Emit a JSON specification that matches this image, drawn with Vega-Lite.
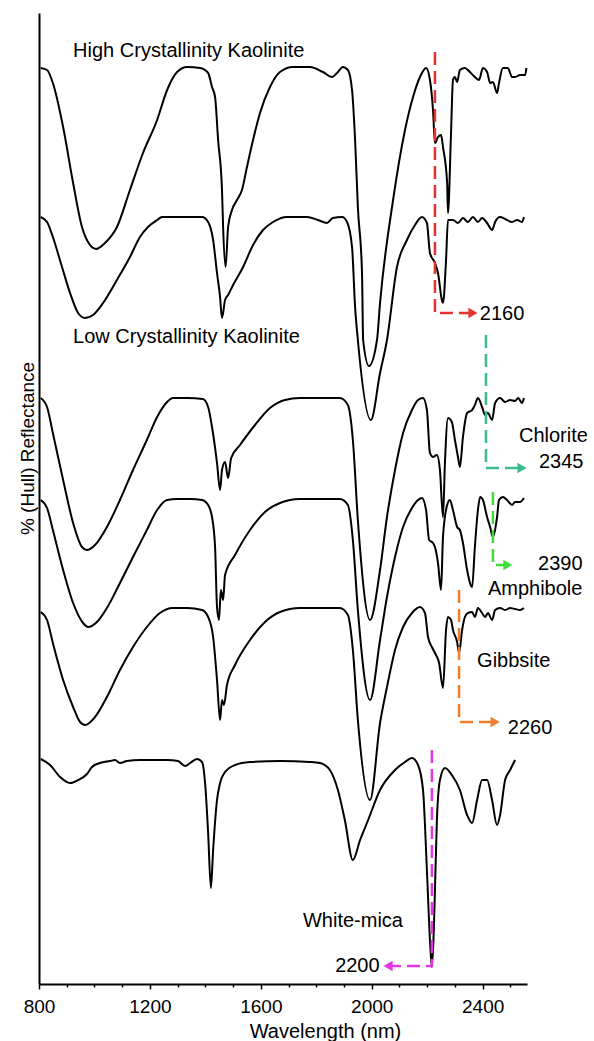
{
"$schema": "https://vega.github.io/schema/vega-lite/v6.json",
"width": 488, "height": 971,
"autosize": {"type": "none"},
"padding": {"left": 39, "top": 13, "right": 67, "bottom": 57},
"background": "white",
"config": {"view": {"stroke": null}, "font": "Liberation Sans"},
"datasets": {
"spectra": [
{"s":"HCK","w":806,"r":916},{"s":"HCK","w":829,"r":914},{"s":"HCK","w":850,"r":901},{"s":"HCK","w":887,"r":857},{"s":"HCK","w":923,"r":801},{"s":"HCK","w":955,"r":757},{"s":"HCK","w":984,"r":739},{"s":"HCK","w":1006,"r":735},{"s":"HCK","w":1038,"r":741},{"s":"HCK","w":1081,"r":757},{"s":"HCK","w":1128,"r":794},{"s":"HCK","w":1175,"r":831},{"s":"HCK","w":1226,"r":864},{"s":"HCK","w":1262,"r":894},{"s":"HCK","w":1298,"r":912},{"s":"HCK","w":1334,"r":917},{"s":"HCK","w":1381,"r":916},{"s":"HCK","w":1410,"r":911},{"s":"HCK","w":1424,"r":897},{"s":"HCK","w":1435,"r":887},{"s":"HCK","w":1446,"r":844},{"s":"HCK","w":1460,"r":794},{"s":"HCK","w":1464,"r":757},{"s":"HCK","w":1473,"r":717},{"s":"HCK","w":1482,"r":757},{"s":"HCK","w":1496,"r":774},{"s":"HCK","w":1514,"r":784},{"s":"HCK","w":1532,"r":794},{"s":"HCK","w":1550,"r":817},{"s":"HCK","w":1572,"r":844},{"s":"HCK","w":1597,"r":871},{"s":"HCK","w":1633,"r":897},{"s":"HCK","w":1669,"r":912},{"s":"HCK","w":1716,"r":917},{"s":"HCK","w":1777,"r":917},{"s":"HCK","w":1824,"r":912},{"s":"HCK","w":1857,"r":907},{"s":"HCK","w":1875,"r":911},{"s":"HCK","w":1896,"r":917},{"s":"HCK","w":1914,"r":914},{"s":"HCK","w":1929,"r":894},{"s":"HCK","w":1940,"r":844},{"s":"HCK","w":1950,"r":777},{"s":"HCK","w":1965,"r":711},{"s":"HCK","w":1969,"r":644},{"s":"HCK","w":1990,"r":618},{"s":"HCK","w":2019,"r":644},{"s":"HCK","w":2030,"r":681},{"s":"HCK","w":2077,"r":784},{"s":"HCK","w":2120,"r":854},{"s":"HCK","w":2149,"r":887},{"s":"HCK","w":2174,"r":907},{"s":"HCK","w":2196,"r":916},{"s":"HCK","w":2210,"r":904},{"s":"HCK","w":2221,"r":874},{"s":"HCK","w":2228,"r":841},{"s":"HCK","w":2239,"r":847},{"s":"HCK","w":2250,"r":849},{"s":"HCK","w":2257,"r":837},{"s":"HCK","w":2272,"r":801},{"s":"HCK","w":2275,"r":771},{"s":"HCK","w":2286,"r":851},{"s":"HCK","w":2293,"r":904},{"s":"HCK","w":2300,"r":907},{"s":"HCK","w":2308,"r":902},{"s":"HCK","w":2318,"r":914},{"s":"HCK","w":2336,"r":916},{"s":"HCK","w":2354,"r":912},{"s":"HCK","w":2372,"r":907},{"s":"HCK","w":2387,"r":904},{"s":"HCK","w":2401,"r":916},{"s":"HCK","w":2416,"r":912},{"s":"HCK","w":2427,"r":901},{"s":"HCK","w":2437,"r":902},{"s":"HCK","w":2452,"r":891},{"s":"HCK","w":2459,"r":901},{"s":"HCK","w":2473,"r":916},{"s":"HCK","w":2491,"r":916},{"s":"HCK","w":2506,"r":907},{"s":"HCK","w":2517,"r":907},{"s":"HCK","w":2535,"r":909},{"s":"HCK","w":2553,"r":909},{"s":"HCK","w":2558,"r":916},
{"s":"LCK","w":806,"r":767},{"s":"LCK","w":829,"r":762},{"s":"LCK","w":850,"r":747},{"s":"LCK","w":883,"r":717},{"s":"LCK","w":912,"r":691},{"s":"LCK","w":941,"r":671},{"s":"LCK","w":966,"r":666},{"s":"LCK","w":995,"r":669},{"s":"LCK","w":1031,"r":681},{"s":"LCK","w":1081,"r":704},{"s":"LCK","w":1128,"r":727},{"s":"LCK","w":1164,"r":747},{"s":"LCK","w":1193,"r":757},{"s":"LCK","w":1226,"r":764},{"s":"LCK","w":1244,"r":767},{"s":"LCK","w":1334,"r":767},{"s":"LCK","w":1388,"r":767},{"s":"LCK","w":1410,"r":762},{"s":"LCK","w":1428,"r":744},{"s":"LCK","w":1442,"r":711},{"s":"LCK","w":1453,"r":687},{"s":"LCK","w":1460,"r":666},{"s":"LCK","w":1471,"r":684},{"s":"LCK","w":1482,"r":689},{"s":"LCK","w":1500,"r":699},{"s":"LCK","w":1536,"r":717},{"s":"LCK","w":1572,"r":739},{"s":"LCK","w":1608,"r":754},{"s":"LCK","w":1644,"r":762},{"s":"LCK","w":1694,"r":767},{"s":"LCK","w":1767,"r":767},{"s":"LCK","w":1806,"r":764},{"s":"LCK","w":1839,"r":761},{"s":"LCK","w":1860,"r":766},{"s":"LCK","w":1893,"r":767},{"s":"LCK","w":1911,"r":762},{"s":"LCK","w":1929,"r":737},{"s":"LCK","w":1940,"r":677},{"s":"LCK","w":1950,"r":644},{"s":"LCK","w":1997,"r":564},{"s":"LCK","w":2030,"r":611},{"s":"LCK","w":2055,"r":644},{"s":"LCK","w":2091,"r":717},{"s":"LCK","w":2127,"r":744},{"s":"LCK","w":2156,"r":759},{"s":"LCK","w":2181,"r":767},{"s":"LCK","w":2199,"r":761},{"s":"LCK","w":2210,"r":731},{"s":"LCK","w":2228,"r":721},{"s":"LCK","w":2239,"r":711},{"s":"LCK","w":2253,"r":684},{"s":"LCK","w":2257,"r":681},{"s":"LCK","w":2268,"r":724},{"s":"LCK","w":2275,"r":764},{"s":"LCK","w":2293,"r":764},{"s":"LCK","w":2311,"r":761},{"s":"LCK","w":2329,"r":766},{"s":"LCK","w":2347,"r":762},{"s":"LCK","w":2365,"r":767},{"s":"LCK","w":2383,"r":762},{"s":"LCK","w":2398,"r":766},{"s":"LCK","w":2416,"r":761},{"s":"LCK","w":2434,"r":754},{"s":"LCK","w":2445,"r":762},{"s":"LCK","w":2463,"r":767},{"s":"LCK","w":2481,"r":765},{"s":"LCK","w":2506,"r":762},{"s":"LCK","w":2524,"r":764},{"s":"LCK","w":2542,"r":762},{"s":"LCK","w":2549,"r":767},
{"s":"Chl","w":806,"r":586},{"s":"Chl","w":829,"r":577},{"s":"Chl","w":850,"r":551},{"s":"Chl","w":887,"r":504},{"s":"Chl","w":923,"r":461},{"s":"Chl","w":955,"r":437},{"s":"Chl","w":973,"r":434},{"s":"Chl","w":1002,"r":439},{"s":"Chl","w":1045,"r":457},{"s":"Chl","w":1092,"r":484},{"s":"Chl","w":1139,"r":514},{"s":"Chl","w":1189,"r":544},{"s":"Chl","w":1226,"r":567},{"s":"Chl","w":1262,"r":582},{"s":"Chl","w":1283,"r":586},{"s":"Chl","w":1334,"r":586},{"s":"Chl","w":1391,"r":585},{"s":"Chl","w":1410,"r":577},{"s":"Chl","w":1424,"r":557},{"s":"Chl","w":1442,"r":521},{"s":"Chl","w":1453,"r":494},{"s":"Chl","w":1460,"r":514},{"s":"Chl","w":1471,"r":522},{"s":"Chl","w":1482,"r":506},{"s":"Chl","w":1493,"r":526},{"s":"Chl","w":1525,"r":539},{"s":"Chl","w":1579,"r":559},{"s":"Chl","w":1633,"r":576},{"s":"Chl","w":1687,"r":584},{"s":"Chl","w":1741,"r":586},{"s":"Chl","w":1885,"r":586},{"s":"Chl","w":1914,"r":579},{"s":"Chl","w":1932,"r":544},{"s":"Chl","w":1950,"r":464},{"s":"Chl","w":1994,"r":364},{"s":"Chl","w":2030,"r":414},{"s":"Chl","w":2055,"r":467},{"s":"Chl","w":2084,"r":514},{"s":"Chl","w":2113,"r":551},{"s":"Chl","w":2145,"r":574},{"s":"Chl","w":2167,"r":584},{"s":"Chl","w":2185,"r":586},{"s":"Chl","w":2199,"r":574},{"s":"Chl","w":2210,"r":531},{"s":"Chl","w":2221,"r":527},{"s":"Chl","w":2235,"r":529},{"s":"Chl","w":2246,"r":514},{"s":"Chl","w":2257,"r":467},{"s":"Chl","w":2264,"r":521},{"s":"Chl","w":2275,"r":566},{"s":"Chl","w":2289,"r":562},{"s":"Chl","w":2300,"r":544},{"s":"Chl","w":2311,"r":527},{"s":"Chl","w":2318,"r":517},{"s":"Chl","w":2329,"r":547},{"s":"Chl","w":2344,"r":571},{"s":"Chl","w":2362,"r":574},{"s":"Chl","w":2372,"r":579},{"s":"Chl","w":2383,"r":586},{"s":"Chl","w":2398,"r":577},{"s":"Chl","w":2409,"r":569},{"s":"Chl","w":2419,"r":571},{"s":"Chl","w":2434,"r":564},{"s":"Chl","w":2445,"r":581},{"s":"Chl","w":2463,"r":586},{"s":"Chl","w":2481,"r":582},{"s":"Chl","w":2499,"r":584},{"s":"Chl","w":2517,"r":583},{"s":"Chl","w":2528,"r":586},{"s":"Chl","w":2542,"r":581},{"s":"Chl","w":2549,"r":586},
{"s":"Amp","w":806,"r":484},{"s":"Amp","w":829,"r":476},{"s":"Amp","w":850,"r":454},{"s":"Amp","w":887,"r":414},{"s":"Amp","w":923,"r":381},{"s":"Amp","w":959,"r":361},{"s":"Amp","w":977,"r":357},{"s":"Amp","w":1009,"r":362},{"s":"Amp","w":1045,"r":376},{"s":"Amp","w":1092,"r":401},{"s":"Amp","w":1139,"r":427},{"s":"Amp","w":1189,"r":454},{"s":"Amp","w":1226,"r":474},{"s":"Amp","w":1262,"r":484},{"s":"Amp","w":1298,"r":485},{"s":"Amp","w":1345,"r":485},{"s":"Amp","w":1388,"r":484},{"s":"Amp","w":1410,"r":479},{"s":"Amp","w":1424,"r":467},{"s":"Amp","w":1435,"r":437},{"s":"Amp","w":1442,"r":377},{"s":"Amp","w":1449,"r":364},{"s":"Amp","w":1456,"r":394},{"s":"Amp","w":1464,"r":384},{"s":"Amp","w":1471,"r":409},{"s":"Amp","w":1507,"r":429},{"s":"Amp","w":1561,"r":454},{"s":"Amp","w":1615,"r":472},{"s":"Amp","w":1669,"r":481},{"s":"Amp","w":1741,"r":485},{"s":"Amp","w":1885,"r":485},{"s":"Amp","w":1914,"r":479},{"s":"Amp","w":1932,"r":444},{"s":"Amp","w":1950,"r":374},{"s":"Amp","w":1994,"r":284},{"s":"Amp","w":2030,"r":344},{"s":"Amp","w":2055,"r":387},{"s":"Amp","w":2084,"r":427},{"s":"Amp","w":2113,"r":457},{"s":"Amp","w":2145,"r":476},{"s":"Amp","w":2167,"r":484},{"s":"Amp","w":2181,"r":486},{"s":"Amp","w":2196,"r":474},{"s":"Amp","w":2207,"r":444},{"s":"Amp","w":2221,"r":441},{"s":"Amp","w":2228,"r":437},{"s":"Amp","w":2239,"r":421},{"s":"Amp","w":2250,"r":394},{"s":"Amp","w":2257,"r":447},{"s":"Amp","w":2272,"r":479},{"s":"Amp","w":2282,"r":484},{"s":"Amp","w":2293,"r":474},{"s":"Amp","w":2308,"r":457},{"s":"Amp","w":2318,"r":454},{"s":"Amp","w":2329,"r":441},{"s":"Amp","w":2344,"r":414},{"s":"Amp","w":2362,"r":397},{"s":"Amp","w":2372,"r":437},{"s":"Amp","w":2383,"r":474},{"s":"Amp","w":2391,"r":487},{"s":"Amp","w":2401,"r":484},{"s":"Amp","w":2416,"r":467},{"s":"Amp","w":2427,"r":457},{"s":"Amp","w":2437,"r":447},{"s":"Amp","w":2452,"r":467},{"s":"Amp","w":2459,"r":484},{"s":"Amp","w":2473,"r":487},{"s":"Amp","w":2488,"r":484},{"s":"Amp","w":2506,"r":479},{"s":"Amp","w":2517,"r":482},{"s":"Amp","w":2535,"r":482},{"s":"Amp","w":2549,"r":486},
{"s":"Gib","w":806,"r":372},{"s":"Gib","w":829,"r":364},{"s":"Gib","w":850,"r":341},{"s":"Gib","w":887,"r":304},{"s":"Gib","w":923,"r":277},{"s":"Gib","w":948,"r":262},{"s":"Gib","w":966,"r":259},{"s":"Gib","w":1002,"r":267},{"s":"Gib","w":1045,"r":287},{"s":"Gib","w":1092,"r":314},{"s":"Gib","w":1139,"r":337},{"s":"Gib","w":1189,"r":357},{"s":"Gib","w":1236,"r":371},{"s":"Gib","w":1283,"r":376},{"s":"Gib","w":1334,"r":376},{"s":"Gib","w":1388,"r":374},{"s":"Gib","w":1410,"r":367},{"s":"Gib","w":1428,"r":347},{"s":"Gib","w":1442,"r":304},{"s":"Gib","w":1453,"r":264},{"s":"Gib","w":1460,"r":284},{"s":"Gib","w":1467,"r":279},{"s":"Gib","w":1478,"r":299},{"s":"Gib","w":1507,"r":319},{"s":"Gib","w":1561,"r":344},{"s":"Gib","w":1615,"r":362},{"s":"Gib","w":1669,"r":372},{"s":"Gib","w":1741,"r":376},{"s":"Gib","w":1885,"r":376},{"s":"Gib","w":1914,"r":369},{"s":"Gib","w":1932,"r":334},{"s":"Gib","w":1950,"r":264},{"s":"Gib","w":1994,"r":184},{"s":"Gib","w":2030,"r":261},{"s":"Gib","w":2055,"r":297},{"s":"Gib","w":2084,"r":334},{"s":"Gib","w":2113,"r":357},{"s":"Gib","w":2145,"r":371},{"s":"Gib","w":2174,"r":377},{"s":"Gib","w":2192,"r":371},{"s":"Gib","w":2203,"r":347},{"s":"Gib","w":2217,"r":337},{"s":"Gib","w":2228,"r":331},{"s":"Gib","w":2243,"r":321},{"s":"Gib","w":2257,"r":296},{"s":"Gib","w":2268,"r":354},{"s":"Gib","w":2275,"r":367},{"s":"Gib","w":2286,"r":364},{"s":"Gib","w":2293,"r":354},{"s":"Gib","w":2308,"r":342},{"s":"Gib","w":2315,"r":331},{"s":"Gib","w":2326,"r":354},{"s":"Gib","w":2336,"r":367},{"s":"Gib","w":2347,"r":371},{"s":"Gib","w":2362,"r":372},{"s":"Gib","w":2372,"r":367},{"s":"Gib","w":2383,"r":376},{"s":"Gib","w":2398,"r":371},{"s":"Gib","w":2409,"r":367},{"s":"Gib","w":2419,"r":371},{"s":"Gib","w":2434,"r":364},{"s":"Gib","w":2445,"r":374},{"s":"Gib","w":2463,"r":376},{"s":"Gib","w":2481,"r":374},{"s":"Gib","w":2499,"r":376},{"s":"Gib","w":2517,"r":375},{"s":"Gib","w":2535,"r":374},{"s":"Gib","w":2549,"r":376},
{"s":"Wm","w":806,"r":225},{"s":"Wm","w":840,"r":219},{"s":"Wm","w":876,"r":207},{"s":"Wm","w":912,"r":201},{"s":"Wm","w":941,"r":204},{"s":"Wm","w":973,"r":210},{"s":"Wm","w":991,"r":217},{"s":"Wm","w":1020,"r":221},{"s":"Wm","w":1056,"r":223},{"s":"Wm","w":1074,"r":224},{"s":"Wm","w":1092,"r":221},{"s":"Wm","w":1117,"r":223},{"s":"Wm","w":1164,"r":224},{"s":"Wm","w":1211,"r":224},{"s":"Wm","w":1262,"r":224},{"s":"Wm","w":1301,"r":223},{"s":"Wm","w":1327,"r":218},{"s":"Wm","w":1345,"r":221},{"s":"Wm","w":1370,"r":225},{"s":"Wm","w":1388,"r":222},{"s":"Wm","w":1399,"r":201},{"s":"Wm","w":1410,"r":151},{"s":"Wm","w":1420,"r":96},{"s":"Wm","w":1428,"r":134},{"s":"Wm","w":1442,"r":184},{"s":"Wm","w":1453,"r":201},{"s":"Wm","w":1471,"r":212},{"s":"Wm","w":1507,"r":219},{"s":"Wm","w":1561,"r":222},{"s":"Wm","w":1669,"r":223},{"s":"Wm","w":1777,"r":222},{"s":"Wm","w":1813,"r":221},{"s":"Wm","w":1849,"r":214},{"s":"Wm","w":1878,"r":194},{"s":"Wm","w":1903,"r":164},{"s":"Wm","w":1932,"r":124},{"s":"Wm","w":1958,"r":144},{"s":"Wm","w":1987,"r":164},{"s":"Wm","w":2030,"r":194},{"s":"Wm","w":2084,"r":214},{"s":"Wm","w":2120,"r":222},{"s":"Wm","w":2145,"r":226},{"s":"Wm","w":2167,"r":219},{"s":"Wm","w":2185,"r":194},{"s":"Wm","w":2199,"r":114},{"s":"Wm","w":2210,"r":44},{"s":"Wm","w":2217,"r":17},{"s":"Wm","w":2224,"r":54},{"s":"Wm","w":2235,"r":164},{"s":"Wm","w":2246,"r":204},{"s":"Wm","w":2264,"r":216},{"s":"Wm","w":2289,"r":209},{"s":"Wm","w":2318,"r":194},{"s":"Wm","w":2344,"r":169},{"s":"Wm","w":2362,"r":161},{"s":"Wm","w":2380,"r":184},{"s":"Wm","w":2398,"r":204},{"s":"Wm","w":2416,"r":204},{"s":"Wm","w":2434,"r":184},{"s":"Wm","w":2452,"r":159},{"s":"Wm","w":2463,"r":169},{"s":"Wm","w":2481,"r":204},{"s":"Wm","w":2499,"r":214},{"s":"Wm","w":2517,"r":224}
],
"ann": [
{"id":"red","w":2228,"r":932,"o":0},{"id":"red","w":2228,"r":671,"o":1},{"id":"red","w":2350,"r":671,"o":2},
{"id":"chl","w":2412,"r":649,"o":0},{"id":"chl","w":2412,"r":516,"o":1},{"id":"chl","w":2530,"r":516,"o":2},
{"id":"amp","w":2437,"r":492,"o":0},{"id":"amp","w":2437,"r":419,"o":1},{"id":"amp","w":2485,"r":419,"o":2},
{"id":"gib","w":2315,"r":394,"o":0},{"id":"gib","w":2315,"r":262,"o":1},{"id":"gib","w":2435,"r":262,"o":2},
{"id":"wm","w":2217,"r":234,"o":0},{"id":"wm","w":2217,"r":18,"o":1},{"id":"wm","w":2070,"r":18,"o":2}
],
"heads": [
{"id":"red","w":2365,"r":671,"dir":"right"},
{"id":"chl","w":2542,"r":516,"dir":"right"},
{"id":"amp","w":2491,"r":419,"dir":"right"},
{"id":"gib","w":2445,"r":262,"dir":"right"},
{"id":"wm","w":2059,"r":18,"dir":"left"}
],
"labels": [
{"t":"High Crystallinity Kaolinite","w":923,"r":927},
{"t":"Low Crystallinity Kaolinite","w":923,"r":641},
{"t":"2160","w":2390,"r":664},
{"t":"Chlorite","w":2531,"r":542},
{"t":"2345","w":2603,"r":516},
{"t":"2390","w":2600,"r":414},
{"t":"Amphibole","w":2419,"r":389},
{"t":"Gibbsite","w":2380,"r":317},
{"t":"2260","w":2491,"r":250},
{"t":"White-mica","w":1752,"r":57},
{"t":"2200","w":1868,"r":12}
]
},
"encoding": {
"x": {"field":"w","type":"quantitative","scale":{"domain":[800,2560],"nice":false,"zero":false},
 "axis":{"title":"Wavelength (nm)","values":[800,900,1000,1100,1200,1300,1400,1500,1600,1700,1800,1900,2000,2100,2200,2300,2400,2500],
 "format":"d","labelExpr":"datum.value % 400 === 0 ? datum.label : ''","grid":false,
 "tickSize":{"condition":{"test":"datum.value % 400 === 0","value":5},"value":3},
 "tickColor":"black","tickWidth":1.5,
 "domainColor":"black","domainWidth":2,"labelFontSize":19,"labelColor":"black","labelPadding":8,"labelDx":8,"labelFlush":false,"labelOverlap":false,
 "titleFontSize":20,"titleFontWeight":"normal","titleColor":"black","titleX":286,"titleY":53,"titleAlign":"center","titleBaseline":"alphabetic"}},
"y": {"field":"r","type":"quantitative","scale":{"domain":[0,971],"nice":false,"zero":false},
 "axis":{"title":"% (Hull) Reflectance","ticks":false,"labels":false,"grid":false,"domainColor":"black","domainWidth":2,
 "titleFontSize":19,"titleFontWeight":"normal","titleColor":"black","titleX":-12,"titleY":435,"titleAngle":270,"titleAlign":"center","titleBaseline":"middle"}}
},
"layer": [
{"data":{"name":"spectra"},"mark":{"type":"line","color":"black","strokeWidth":2,"interpolate":"monotone"},"encoding":{"detail":{"field":"s"}}},
{"data":{"name":"ann"},"mark":{"type":"line","strokeWidth":2.5,"strokeDash":[13,6]},
 "encoding":{"detail":{"field":"id"},"order":{"field":"o"},
 "color":{"field":"id","type":"nominal","scale":{"domain":["red","chl","amp","gib","wm"],"range":["#e5322d","#3dba8e","#3fdc3a","#ef7f2a","#e437e4"]},"legend":null}}},
{"data":{"name":"heads"},"mark":{"type":"point","filled":true,"size":110,"opacity":1},
 "encoding":{"color":{"field":"id","type":"nominal","legend":null},
 "shape":{"field":"dir","type":"nominal","scale":{"domain":["right","left"],"range":["triangle-right","triangle-left"]},"legend":null}}},
{"data":{"name":"labels"},"mark":{"type":"text","fontSize":20,"color":"black","align":"left","baseline":"alphabetic"},
 "encoding":{"text":{"field":"t"}}}
]
}
